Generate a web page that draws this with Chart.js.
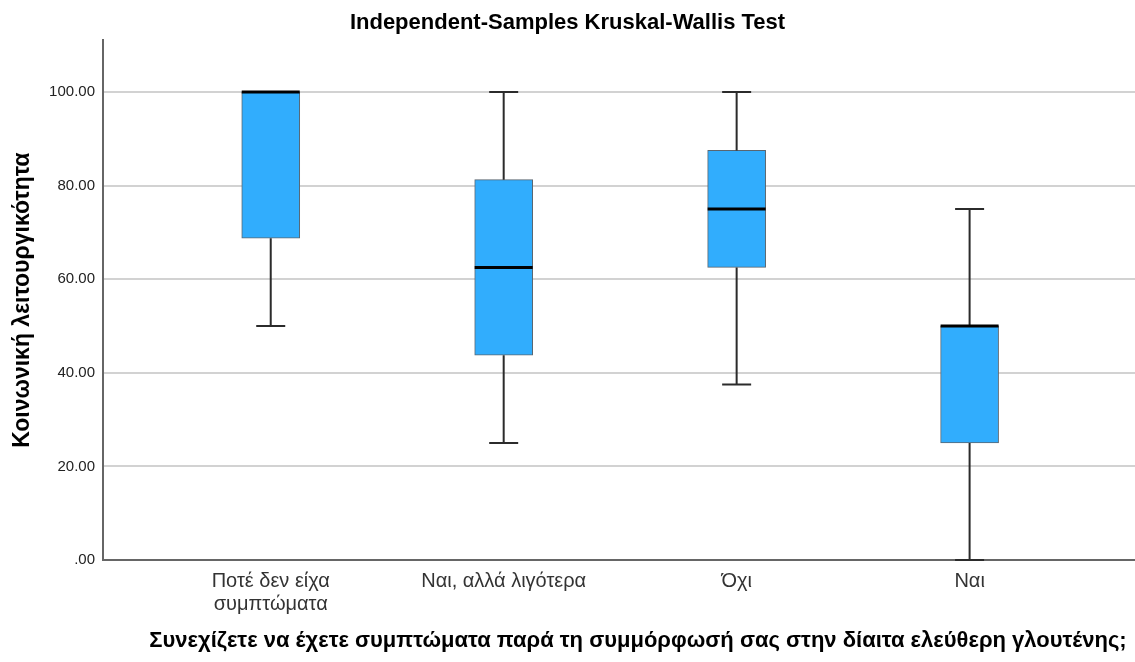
<!DOCTYPE html>
<html>
<head>
<meta charset="utf-8">
<script src="https://cdn.jsdelivr.net/npm/chart.js@4.4.1/dist/chart.umd.min.js"></script>
<style>
  html, body { margin: 0; padding: 0; background: #ffffff; }
  #wrap { width: 1135px; height: 662px; }
</style>
</head>
<body>
<div id="wrap"><canvas id="chart"></canvas></div>
<script>
// Groups on the horizontal axis
const categories = [
  ['Ποτέ δεν είχα', 'συμπτώματα'],
  'Ναι, αλλά λιγότερα',
  'Όχι',
  'Ναι'
];
// Five-number summaries per group
const minimums  = [50, 25, 37.5, 0];
const quartile1 = [68.75, 43.75, 62.5, 25];
const medians   = [100, 62.5, 75, 50];
const quartile3 = [100, 81.25, 87.5, 50];
const maximums  = [100, 100, 100, 75];
// Vertical axis tick values
const yTicks = [0, 20, 40, 60, 80, 100];

const FONT = "'Liberation Sans', Arial, sans-serif";
const X_TITLE = 'Συνεχίζετε να έχετε συμπτώματα παρά τη συμμόρφωσή σας στην δίαιτα ελεύθερη γλουτένης;';

// Boxes are floating bars from Q1 to Q3; whiskers and medians are drawn on top
const boxData = categories.map((c, i) => ({ x: i + 1, y: [quartile1[i], quartile3[i]] }));

const whiskerPlugin = {
  id: 'whiskers',
  afterDatasetsDraw(chart) {
    const ctx = chart.ctx;
    const xs = chart.scales.x, ys = chart.scales.y;
    const meta = chart.getDatasetMeta(0);
    ctx.save();
    categories.forEach((c, i) => {
      const cx = xs.getPixelForValue(i + 1);
      const bw = meta.data[i].width;
      const cap = bw / 4;
      const yMin = ys.getPixelForValue(minimums[i]);
      const yMax = ys.getPixelForValue(maximums[i]);
      const yQ1 = ys.getPixelForValue(quartile1[i]);
      const yQ3 = ys.getPixelForValue(quartile3[i]);
      const yMed = ys.getPixelForValue(medians[i]);
      ctx.strokeStyle = '#2b2b2b';
      ctx.lineWidth = 2;
      ctx.beginPath();
      // lower whisker and cap
      ctx.moveTo(cx, yQ1); ctx.lineTo(cx, yMin);
      ctx.moveTo(cx - cap, yMin); ctx.lineTo(cx + cap, yMin);
      // upper whisker and cap
      ctx.moveTo(cx, yQ3); ctx.lineTo(cx, yMax);
      ctx.moveTo(cx - cap, yMax); ctx.lineTo(cx + cap, yMax);
      ctx.stroke();
      // median
      ctx.strokeStyle = '#000000';
      ctx.lineWidth = 3;
      ctx.beginPath();
      ctx.moveTo(cx - bw / 2, yMed); ctx.lineTo(cx + bw / 2, yMed);
      ctx.stroke();
    });
    ctx.restore();
  }
};

// Horizontal axis title, placed below the tick labels
const xTitlePlugin = {
  id: 'xTitle',
  afterDraw(chart) {
    const ctx = chart.ctx;
    const area = chart.chartArea;
    ctx.save();
    ctx.fillStyle = '#000000';
    ctx.font = 'bold 22px ' + FONT;
    ctx.textAlign = 'center';
    ctx.textBaseline = 'middle';
    ctx.fillText(X_TITLE, (area.left + area.right) / 2 + 19, area.bottom + 81);
    ctx.restore();
  }
};

new Chart(document.getElementById('chart'), {
  type: 'bar',
  data: {
    datasets: [{
      data: boxData,
      backgroundColor: '#31adfd',
      borderColor: '#5a6670',
      borderWidth: 1,
      borderSkipped: false,
      barThickness: 58
    }]
  },
  plugins: [whiskerPlugin, xTitlePlugin],
  options: {
    responsive: true,
    maintainAspectRatio: false,
    animation: false,
    layout: { padding: { top: 0, right: 0, bottom: 0, left: 0 } },
    plugins: {
      legend: { display: false },
      tooltip: { enabled: false },
      title: {
        display: true,
        text: 'Independent-Samples Kruskal-Wallis Test',
        color: '#000000',
        font: { family: FONT, size: 22, weight: 'bold' },
        padding: { top: 10, bottom: 4 }
      }
    },
    scales: {
      x: {
        type: 'linear',
        offset: false,
        min: 0.28,
        max: 4.71,
        afterBuildTicks: axis => { axis.ticks = categories.map((c, i) => ({ value: i + 1 })); },
        afterFit: axis => { axis.height = 102; },
        grid: { display: false, drawTicks: false },
        border: { display: true, color: '#666666', width: 2 },
        ticks: {
          color: '#333333',
          font: { family: FONT, size: 20, lineHeight: 1.15 },
          padding: 10,
          maxRotation: 0,
          autoSkip: false,
          callback: v => categories[v - 1]
        },
        title: { display: false }
      },
      y: {
        min: 0,
        max: 111,
        afterBuildTicks: axis => { axis.ticks = yTicks.map(v => ({ value: v })); },
        afterFit: axis => { axis.width = 103; },
        grid: { color: '#d2d2d2', lineWidth: 2, drawTicks: false },
        border: { display: true, color: '#666666', width: 2 },
        ticks: {
          color: '#222222',
          font: { family: FONT, size: 15 },
          padding: 8,
          callback: v => (v === 0 ? '.00' : v.toFixed(2))
        },
        title: {
          display: true,
          text: 'Κοινωνική λειτουργικότητα',
          color: '#000000',
          font: { family: FONT, size: 23, weight: 'bold' },
          padding: { top: 9, bottom: 0 }
        }
      }
    }
  }
});
</script>
</body>
</html>
